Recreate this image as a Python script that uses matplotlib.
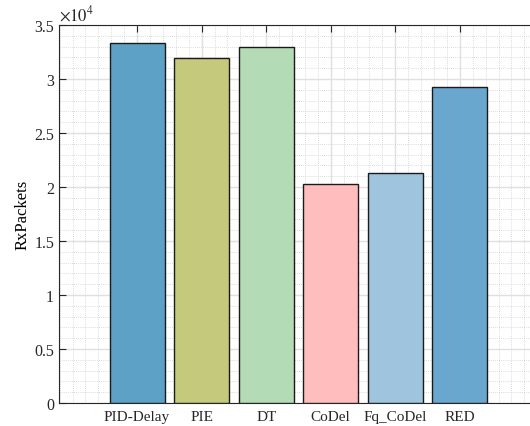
import matplotlib
matplotlib.use("Agg")
import matplotlib.pyplot as plt
from matplotlib.ticker import MultipleLocator

categories = ["PID-Delay", "PIE", "DT", "CoDel", "Fq_CoDel", "RED"]
rx_packets = [33360, 31950, 32930, 20240, 21320, 29250]
colors = ["#5DA1C6", "#C5C97B", "#B3DBB5", "#FFBDBD", "#9FC4DD", "#6AA7CF"]

plt.rcParams['font.family'] = ['Liberation Serif', 'DejaVu Serif']
plt.rcParams['mathtext.fontset'] = 'stix'
fig = plt.figure(figsize=(5.30, 4.27), dpi=100)
ax = fig.add_axes([59/530, (427-404)/427, 1.0 - 59/530 + 0.01, (404-26)/427])

x = list(range(1, len(categories) + 1))
scaled = [v / 1e4 for v in rx_packets]
ax.bar(x, scaled, width=0.85, color=colors, edgecolor="#1a1a1a", linewidth=1.0, zorder=3)

ax.set_xlim(-0.21, 7.17)
ax.set_ylim(0, 3.5)
ax.set_xticks(x)
ax.set_xticklabels(categories, fontsize=11)
ax.set_yticks([0, 0.5, 1, 1.5, 2, 2.5, 3, 3.5])
ax.set_yticklabels(["0", "0.5", "1", "1.5", "2", "2.5", "3", "3.5"], fontsize=11.5)
ax.xaxis.set_minor_locator(MultipleLocator(0.2))
ax.yaxis.set_minor_locator(MultipleLocator(0.1))
ax.tick_params(which='both', direction='in', top=True, right=False, colors="#262626")
ax.tick_params(which='major', length=5)
ax.tick_params(axis='x', which='major', pad=5)
ax.tick_params(which='minor', length=0)
ax.grid(which='major', color="#e0e0e0", linewidth=1.0, zorder=0)
ax.grid(which='minor', color="#cfcfcf", linestyle=(0, (1, 1.5)), linewidth=0.6, zorder=0)
ax.set_axisbelow(True)
for s in ["left", "bottom", "top"]:
    ax.spines[s].set_color("#262626")
ax.spines["right"].set_visible(False)

ax.set_ylabel("RxPackets", fontsize=12, labelpad=3)
ax.text(0.0, 1.003, r"$\times10^{4}$", transform=ax.transAxes, fontsize=12, va="bottom", ha="left", color="#262626")

fig.savefig("out.png", dpi=100)
